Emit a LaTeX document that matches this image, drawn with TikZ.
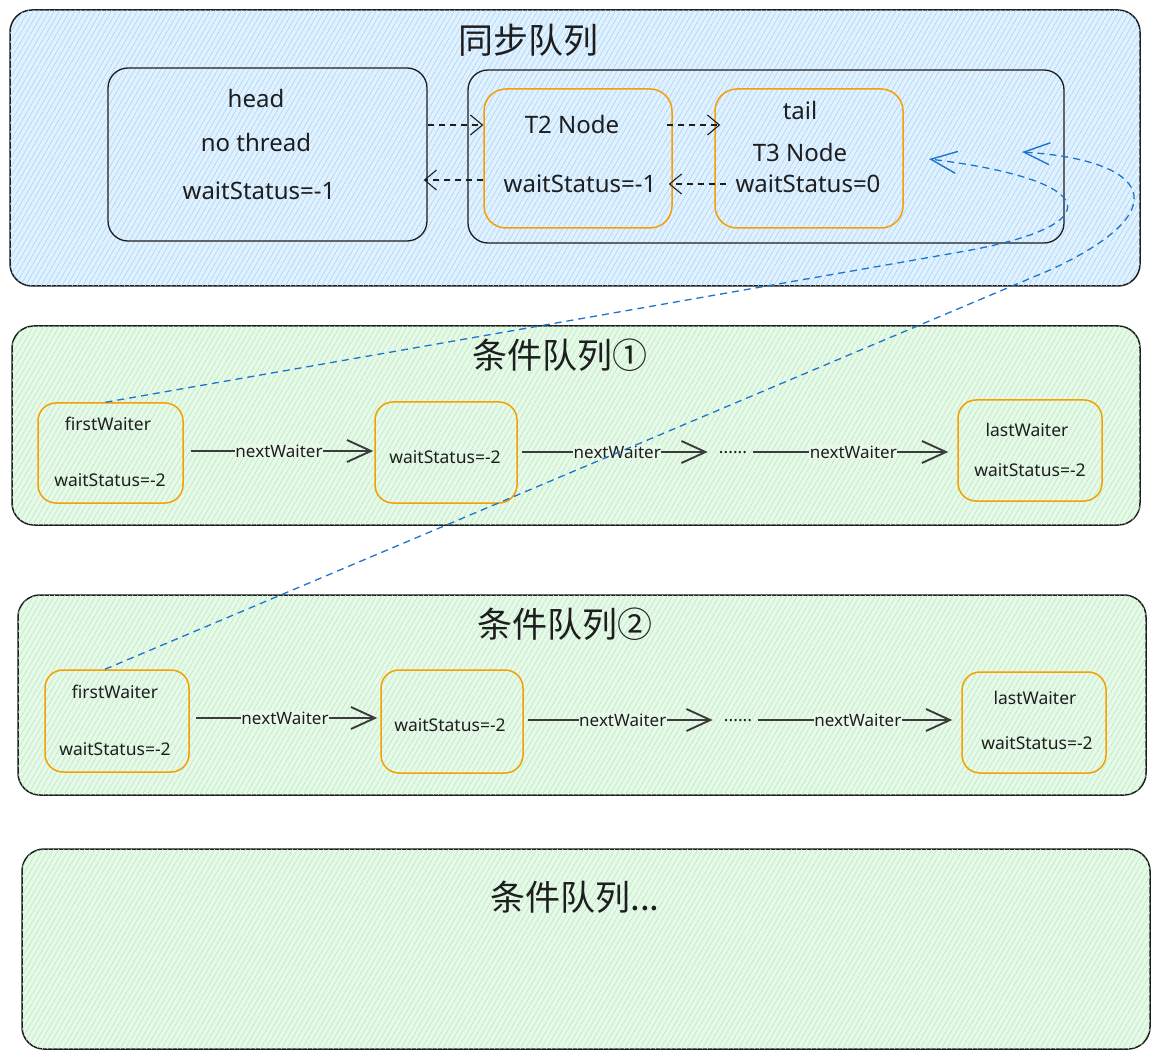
\documentclass[tikz,border=0pt]{standalone}
\usepackage{fontspec}
\setmainfont{Noto Sans}
\newfontfamily\cjk{Noto Sans CJK SC}
\usetikzlibrary{arrows.meta,patterns.meta}
\definecolor{bluebg}{RGB}{226,241,254}
\definecolor{bluehatch}{RGB}{165,214,252}
\definecolor{greenbg}{RGB}{232,249,234}
\definecolor{greenhatch}{RGB}{178,238,188}
\definecolor{orangeline}{RGB}{245,159,0}
\definecolor{linkblue}{RGB}{28,116,204}
\definecolor{ink}{RGB}{30,30,30}
\definecolor{arrowink}{RGB}{60,60,60}
\tikzset{
  panel/.style={draw=ink, line width=1.5pt, rounded corners=22pt, inner sep=0pt},
  bluepanel/.style={panel, fill=bluebg, postaction={pattern={Lines[angle=60,distance=4.5pt,line width=0.6pt]}, pattern color=bluehatch}},
  greenpanel/.style={panel, fill=greenbg, postaction={pattern={Lines[angle=60,distance=4.5pt,line width=0.6pt]}, pattern color=greenhatch}},
  blackbox/.style={draw=ink, line width=1.3pt, rounded corners=20pt, inner sep=0pt},
  orangebox/.style={draw=orangeline, line width=1.5pt, rounded corners=22pt, inner sep=0pt},
  bigtxt/.style={text=ink, font=\fontsize{24}{28}\selectfont, inner sep=1pt},
  smalltxt/.style={text=ink, font=\fontsize{17.5}{21}\selectfont, inner sep=1pt},
  titletxt/.style={text=ink, font=\cjk\fontsize{35}{40}\selectfont, inner sep=1pt},
  syncarrow/.style={draw=ink, line width=1.1pt, dash pattern=on 6pt off 5pt, -{Straight Barb[length=12pt,width=20pt,line width=1.1pt]}},
  nextarrow/.style={draw=arrowink, line width=1.9pt, -{Straight Barb[length=24pt,width=22pt,line width=1.9pt]}},
  nextlbl/.style={text=ink, font=\fontsize{17}{20}\selectfont, fill=greenbg, inner sep=0.5pt},
  link/.style={draw=linkblue, line width=1.3pt, dash pattern=on 7pt off 5pt, -{Straight Barb[length=26pt,width=22pt,line width=1.4pt]}}
}
\begin{document}
\begin{tikzpicture}[x=1pt,y=-1pt]
\fill[white] (0,0) rectangle (1160,1059);
\useasboundingbox (0,0) rectangle (1160,1059);

% ---------- sync queue ----------
\node[bluepanel, minimum width=1130pt, minimum height=276pt] (sync) at (575,148) {};
\node[titletxt] (synct) at (528,40) {同步队列};
\node[blackbox, minimum width=319pt, minimum height=173pt] (head) at (267.5,154.5) {};
\node[blackbox, minimum width=596pt, minimum height=173pt] (inner) at (766,156.5) {};
\node[orangebox, minimum width=188pt, minimum height=139pt] (t2) at (578,158.5) {};
\node[orangebox, minimum width=188pt, minimum height=139pt] (t3) at (809,158.5) {};

\node[bigtxt] (heada) at (256,99) {head};
\node[bigtxt] (headb) at (256,143) {no thread};
\node[bigtxt] (headc) at (259,191) {waitStatus=-1};
\node[bigtxt] (t2a) at (572,125) {T2 Node};
\node[bigtxt] (t2b) at (580,184) {waitStatus=-1};
\node[bigtxt] (t3a) at (800,111) {tail};
\node[bigtxt] (t3b) at (800,153) {T3 Node};
\node[bigtxt] (t3c) at (808,184) {waitStatus=0};

\draw[syncarrow] (head.east |- t2a) -- (t2.west |- t2a);
\draw[syncarrow] ([xshift=-6pt]t2.east |- t2a) -- ([xshift=6pt]t3.west |- t2a);
\draw[syncarrow] ([xshift=12pt]t3.west |- t3c) -- ([xshift=-4pt]t2.east |- t3c);
\draw[syncarrow] (t2.west |- 0,180) -- ([xshift=-4pt]head.east |- 0,180);

% ---------- condition queue 1 ----------
\node[greenpanel, minimum width=1128pt, minimum height=199pt] (cq1) at (576,425.5) {};
\node[titletxt] (cq1t) at (560,355) {条件队列①};
\node[orangebox, rounded corners=18pt, minimum width=145pt, minimum height=100pt] (fw1) at (110.5,453) {};
\node[orangebox, rounded corners=18pt, minimum width=142pt, minimum height=101pt] (m1) at (446,452.5) {};
\node[orangebox, rounded corners=18pt, minimum width=144pt, minimum height=101pt] (lw1) at (1030,450.5) {};
\node[smalltxt] (fw1a) at (108,424) {firstWaiter};
\node[smalltxt] (fw1b) at (110,480) {waitStatus=-2};
\node[smalltxt] (m1a) at (445,457) {waitStatus=-2};
\node[smalltxt] (lw1a) at (1027,430) {lastWaiter};
\node[smalltxt] (lw1b) at (1030,470) {waitStatus=-2};
\node[smalltxt, inner sep=2pt] (d1) at (733,453) {......};

\draw[nextarrow, shorten <=7pt, shorten >=1pt] (fw1.east |- 0,451) -- node[nextlbl] (n1a) {nextWaiter} (m1.west |- 0,451);
\draw[nextarrow, shorten <=4pt, shorten >=9pt] (m1.east |- 0,452) -- node[nextlbl] (n1b) {nextWaiter} (d1.west |- 0,452);
\draw[nextarrow, shorten <=4pt, shorten >=9pt] (d1.east |- 0,452) -- node[nextlbl] (n1c) {nextWaiter} (lw1.west |- 0,452);

% ---------- condition queue 2 ----------
\node[greenpanel, minimum width=1128pt, minimum height=200pt] (cq2) at (582,695) {};
\node[titletxt] (cq2t) at (565,624) {条件队列②};
\node[orangebox, rounded corners=18pt, minimum width=144pt, minimum height=102pt] (fw2) at (117,721) {};
\node[orangebox, rounded corners=18pt, minimum width=142pt, minimum height=103pt] (m2) at (452,721.5) {};
\node[orangebox, rounded corners=18pt, minimum width=144pt, minimum height=101pt] (lw2) at (1034,722.5) {};
\node[smalltxt] (fw2a) at (115,692) {firstWaiter};
\node[smalltxt] (fw2b) at (115,749) {waitStatus=-2};
\node[smalltxt] (m2a) at (450,725) {waitStatus=-2};
\node[smalltxt] (lw2a) at (1035,698) {lastWaiter};
\node[smalltxt] (lw2b) at (1037,743) {waitStatus=-2};
\node[smalltxt, inner sep=2pt] (d2) at (738,721) {......};

\draw[nextarrow, shorten <=6pt, shorten >=3pt] (fw2.east |- 0,718) -- node[nextlbl] (n2a) {nextWaiter} (m2.west |- 0,718);
\draw[nextarrow, shorten <=4pt, shorten >=9pt] (m2.east |- 0,720) -- node[nextlbl] (n2b) {nextWaiter} (d2.west |- 0,720);
\draw[nextarrow, shorten <=4pt, shorten >=9pt] (d2.east |- 0,720) -- node[nextlbl] (n2c) {nextWaiter} (lw2.west |- 0,720);

% ---------- condition queue ... ----------
\node[greenpanel, minimum width=1128pt, minimum height=200pt] (cq3) at (586,949) {};
\node[titletxt] (cq3t) at (575,897) {条件队列...};

% ---------- blue links ----------
\coordinate (tip1) at (929,159);
\coordinate (tip2) at (1022,152);
\draw[link] ([xshift=-5pt]fw1.north) -- (960,252) .. controls (1115,225) and (1100,180) .. (tip1);
\draw[link] ([xshift=-12pt]fw2.north) -- (1050,270) .. controls (1180,210) and (1150,160) .. (tip2);
\end{tikzpicture}
\end{document}
